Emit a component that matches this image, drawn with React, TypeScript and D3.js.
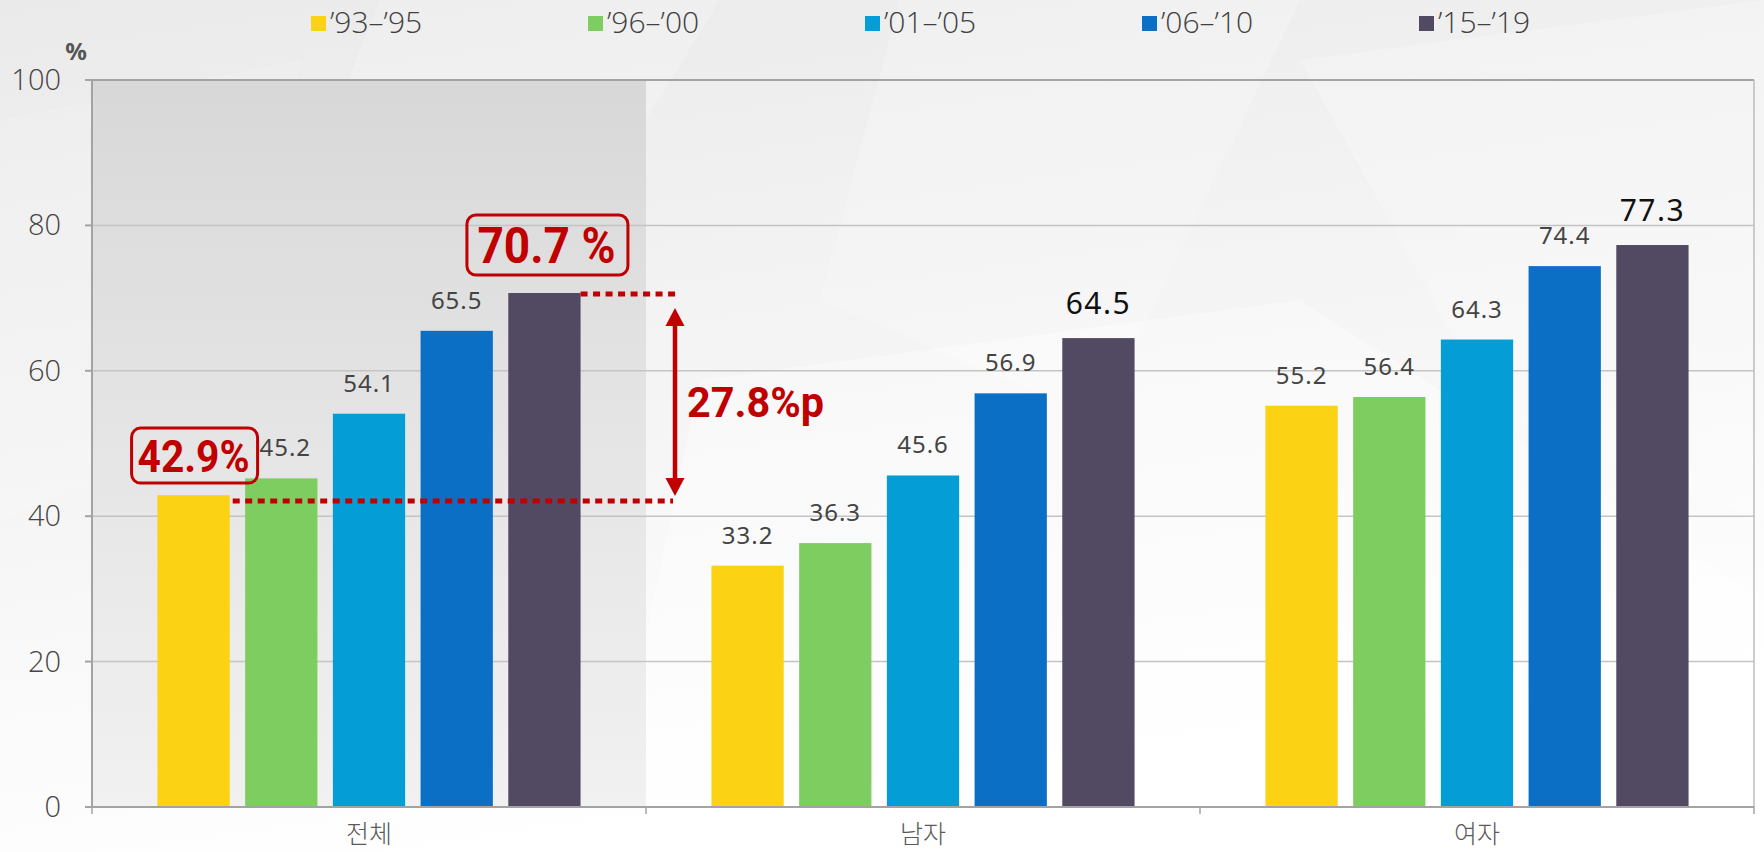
import React from 'react';
import * as d3 from 'd3';

const categories = ['전체', '남자', '여자'];
const seriesNames = ['’93–’95', '’96–’00', '’01–’05', '’06–’10', '’15–’19'];
const seriesColors = ['#FCD314', '#7DCD60', '#049DD6', '#0C6FC6', '#524A62'];
const totalValues = [42.9, 45.2, 54.1, 65.5, 70.7];
const maleValues = [33.2, 36.3, 45.6, 56.9, 64.5];
const femaleValues = [55.2, 56.4, 64.3, 74.4, 77.3];
const yTicks = [0, 20, 40, 60, 80, 100];
const boxLabelLow = '42.9%';
const boxLabelHigh = '70.7 %';
const diffLabel = '27.8%p';

const W = 1764;
const H = 852;
const L = 92;
const R = 1754;
const T = 80;
const B = 807;
const RED = '#C00000';
const NUM_FONT = "'Noto Sans', 'Open Sans', 'DejaVu Sans', sans-serif";
const LIGHT_FONT = "'Open Sans', 'Noto Sans', sans-serif";
const KR_FONT = "'Noto Sans CJK KR', 'Noto Sans', sans-serif";
const BOLD_FONT = "Roboto, 'Noto Sans', sans-serif";

export default function App() {
  const valuesByCat = [totalValues, maleValues, femaleValues];
  const x0 = d3.scaleBand<string>().domain(categories).range([L, R]).padding(0);
  const x1 = d3
    .scaleBand<string>()
    .domain(seriesNames)
    .range([0, x0.bandwidth()])
    .paddingInner(0.176)
    .paddingOuter(0.746);
  const y = d3.scaleLinear().domain([0, 100]).range([B, T]);
  const bw = x1.bandwidth();

  // annotation anchors (all derived from scales)
  const g0 = x0(categories[0]) as number;
  const yellowX = g0 + (x1(seriesNames[0]) as number);
  const purpleX = g0 + (x1(seriesNames[4]) as number);
  const lowY = y(totalValues[0]) + 6;
  const highY = y(totalValues[4]) + 1;
  const arrowX = (x0(categories[1]) as number) + 29;
  const arrowTop = highY + 14;
  const arrowBot = lowY - 5;

  const lowBox = { w: 126, h: 55 };
  const lowBoxCx = yellowX + bw / 2 + 1;
  const lowBoxTop = y(totalValues[0]) - 12 - lowBox.h;
  const highBox = { w: 161, h: 60 };
  const highBoxCx = purpleX + bw / 2 + 3;
  const highBoxTop = y(totalValues[4]) - 18 - highBox.h;

  const legendX = (i: number) => 311 + i * 277;

  return (
    <svg
      width={W}
      height={H}
      viewBox={`0 0 ${W} ${H}`}
      style={{ position: 'absolute', left: 0, top: 0, display: 'block' }}
    >
      <defs>
        <linearGradient id="bg" x1="0" y1="0" x2="0.3" y2="1">
          <stop offset="0" stopColor="#eaeaea" />
          <stop offset="0.45" stopColor="#f3f3f3" />
          <stop offset="1" stopColor="#ffffff" />
        </linearGradient>
        <linearGradient id="shade" x1="0" y1="0" x2="0" y2="1">
          <stop offset="0" stopColor="#d8d8d8" />
          <stop offset="0.5" stopColor="#e5e5e5" />
          <stop offset="1" stopColor="#f1f1f1" />
        </linearGradient>
      </defs>
      <rect x={0} y={0} width={W} height={H} fill="url(#bg)" />
      {/* subtle background facets */}
      <polygon points="380,0 720,0 560,260 300,200" fill="#ffffff" opacity={0.18} />
      <polygon points="900,0 1300,0 1100,420 820,300" fill="#ffffff" opacity={0.2} />
      <polygon points="1300,60 1764,0 1764,520 1500,420" fill="#ffffff" opacity={0.22} />
      <polygon points="0,120 300,60 260,420 0,520" fill="#ffffff" opacity={0.12} />
      <polygon points="700,380 1300,300 1764,600 1764,852 600,852" fill="#ffffff" opacity={0.35} />

      {/* shaded highlight of first group */}
      <rect x={L} y={T} width={(x0(categories[1]) as number) - L} height={B - T} fill="url(#shade)" />

      {/* gridlines */}
      {yTicks
        .filter((t) => t > 0 && t < 100)
        .map((t) => (
          <line key={t} x1={L} x2={R} y1={y(t)} y2={y(t)} stroke="#c4c4c4" strokeWidth={1.5} />
        ))}
      {/* frame */}
      <line x1={L - 7} x2={R} y1={y(100)} y2={y(100)} stroke="#a3a3a3" strokeWidth={2} />
      <line x1={R} x2={R} y1={T} y2={B} stroke="#bdbdbd" strokeWidth={1.5} />

      {/* bars */}
      {categories.map((c, ci) =>
        seriesNames.map((s, si) => {
          const v = valuesByCat[ci][si];
          const bx = (x0(c) as number) + (x1(s) as number);
          return (
            <rect key={c + s} x={bx} y={y(v)} width={bw} height={B - y(v)} fill={seriesColors[si]} />
          );
        })
      )}

      {/* value labels */}
      {categories.map((c, ci) =>
        seriesNames.map((s, si) => {
          if (ci === 0 && (si === 0 || si === 4)) return null;
          const v = valuesByCat[ci][si];
          const shift = ci === 0 && si === 1 ? 4 : 0;
          const cx = (x0(c) as number) + (x1(s) as number) + bw / 2 + shift;
          const big = si === 4;
          return (
            <text
              key={'l' + c + s}
              x={cx}
              y={y(v) - (big ? 24 : 22)}
              textAnchor="middle"
              fontFamily={NUM_FONT}
              fontSize={big ? 30 : 24}
              letterSpacing={big ? 1.5 : 1}
              fill={big ? '#111111' : '#444444'}
            >
              {v.toFixed(1)}
            </text>
          );
        })
      )}

      {/* axes */}
      <line x1={L} x2={L} y1={T} y2={B} stroke="#a3a3a3" strokeWidth={2} />
      <line x1={L - 7} x2={R} y1={B} y2={B} stroke="#a3a3a3" strokeWidth={2} />
      {yTicks.map((t) => (
        <g key={'yt' + t}>
          <line x1={L - 7} x2={L} y1={y(t)} y2={y(t)} stroke="#a3a3a3" strokeWidth={2} />
          <text
            x={61}
            y={y(t) + 10}
            textAnchor="end"
            fontFamily={LIGHT_FONT}
            fontWeight={300}
            fontSize={29}
            fill="#444444"
          >
            {t}
          </text>
        </g>
      ))}
      <text x={76} y={60} textAnchor="middle" fontFamily={NUM_FONT} fontWeight={700} fontSize={24} fill="#555555">
        %
      </text>
      {[...categories.map((c) => x0(c) as number), R].map((xv, i) => (
        <line key={'xt' + i} x1={xv} x2={xv} y1={B} y2={B + 7} stroke="#a3a3a3" strokeWidth={1.5} />
      ))}
      {categories.map((c) => (
        <text
          key={'xl' + c}
          x={(x0(c) as number) + x0.bandwidth() / 2}
          y={843}
          textAnchor="middle"
          fontFamily={KR_FONT}
          fontWeight={300}
          fontSize={25}
          fill="#5a5a5a"
        >
          {c}
        </text>
      ))}

      {/* legend */}
      {seriesNames.map((s, i) => (
        <g key={'lg' + s}>
          <rect x={legendX(i)} y={16} width={15} height={15} fill={seriesColors[i]} />
          <text
            x={legendX(i) + 19}
            y={33}
            fontFamily={LIGHT_FONT}
            fontWeight={300}
            fontSize={30}
            fill="#404040"
          >
            {s}
          </text>
        </g>
      ))}

      {/* annotations */}
      <line
        x1={yellowX + bw + 3}
        x2={arrowX - 2}
        y1={lowY}
        y2={lowY}
        stroke={RED}
        strokeWidth={5}
        strokeDasharray="7 5.5"
      />
      <line
        x1={purpleX + bw}
        x2={arrowX + 3}
        y1={highY}
        y2={highY}
        stroke={RED}
        strokeWidth={5}
        strokeDasharray="7 5.5"
      />
      <line x1={arrowX} x2={arrowX} y1={arrowTop + 14} y2={arrowBot - 14} stroke={RED} strokeWidth={4.5} />
      <polygon
        points={`${arrowX},${arrowTop} ${arrowX - 9.5},${arrowTop + 18} ${arrowX + 9.5},${arrowTop + 18}`}
        fill={RED}
      />
      <polygon
        points={`${arrowX},${arrowBot} ${arrowX - 9.5},${arrowBot - 18} ${arrowX + 9.5},${arrowBot - 18}`}
        fill={RED}
      />
      <text
        x={arrowX + 12}
        y={(arrowTop + arrowBot) / 2 + 15}
        fontFamily={BOLD_FONT}
        fontWeight={700}
        fontSize={42}
        fill={RED}
        textLength={137}
        lengthAdjust="spacingAndGlyphs"
      >
        {diffLabel}
      </text>

      <rect
        x={lowBoxCx - lowBox.w / 2}
        y={lowBoxTop}
        width={lowBox.w}
        height={lowBox.h}
        rx={9}
        fill="none"
        stroke={RED}
        strokeWidth={3}
      />
      <text
        x={lowBoxCx - 57}
        y={lowBoxTop + 44}
        fontFamily={BOLD_FONT}
        fontWeight={700}
        fontSize={45}
        fill={RED}
        textLength={112}
        lengthAdjust="spacingAndGlyphs"
      >
        {boxLabelLow}
      </text>
      <rect
        x={highBoxCx - highBox.w / 2}
        y={highBoxTop}
        width={highBox.w}
        height={highBox.h}
        rx={9}
        fill="none"
        stroke={RED}
        strokeWidth={3}
      />
      <text
        x={highBoxCx - 70}
        y={highBoxTop + 48}
        fontFamily={BOLD_FONT}
        fontWeight={700}
        fontSize={50}
        fill={RED}
        textLength={138}
        lengthAdjust="spacingAndGlyphs"
      >
        {boxLabelHigh}
      </text>
    </svg>
  );
}
